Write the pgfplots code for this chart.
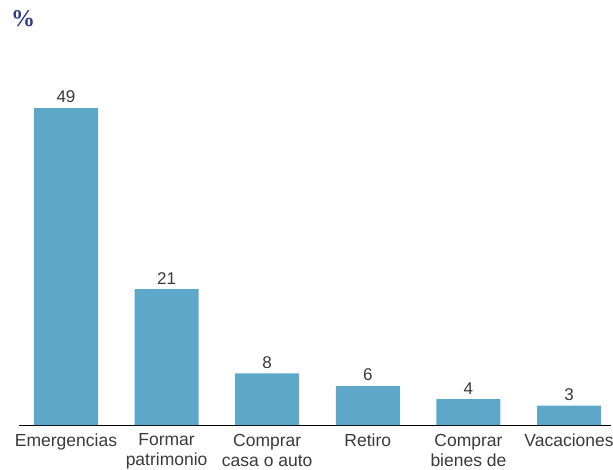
\documentclass[border=0pt]{standalone}
\usepackage{fontspec}
\setmainfont{Liberation Sans}
\newfontfamily\titlefont{Liberation Serif}
\usepackage{pgfplots}
\pgfplotsset{compat=1.18}
\definecolor{barblue}{HTML}{5DA8C8}
\definecolor{txtgray}{HTML}{3A3A3A}
\definecolor{titleblue}{HTML}{2B3C8E}

\begin{document}
\begin{tikzpicture}
\useasboundingbox (0,0) rectangle (613pt,469pt);
\clip (0,0) rectangle (613pt,469pt);
\node[anchor=base west, inner sep=0pt, text=titleblue, font=\titlefont\bfseries\fontsize{24}{26}\selectfont] at (11pt,442pt) {\%};
\begin{axis}[
    at={(66pt,44pt)}, anchor=origin,
    scale only axis,
    width=592pt, height=425pt,
    xmin=-0.467, xmax=5.417,
    ymin=0, ymax=65.7,
    axis x line=bottom,
    axis y line=none,
    axis line style={black, line width=0.9pt, -},
    ybar, bar width=64pt,
    xtick=data,
    xticklabels={Emergencias, Formar\\patrimonio, Comprar\\casa o auto, Retiro, Comprar\\bienes de, Vacaciones},
    xtick style={draw=none},
    xticklabel style={align=center, font=\fontsize{17.5}{20}\selectfont, text=txtgray, anchor=north, yshift=-1pt},
    /pgf/number format/assume math mode=true,
    nodes near coords,
    every node near coord/.append style={font=\fontsize{17}{18}\selectfont, text=txtgray, yshift=1.5pt},
]
\addplot[fill=barblue, draw=none] coordinates {
    (0,49) (1,21) (2,8) (3,6) (4,4) (5,3)
};
\end{axis}
\end{tikzpicture}
\end{document}
